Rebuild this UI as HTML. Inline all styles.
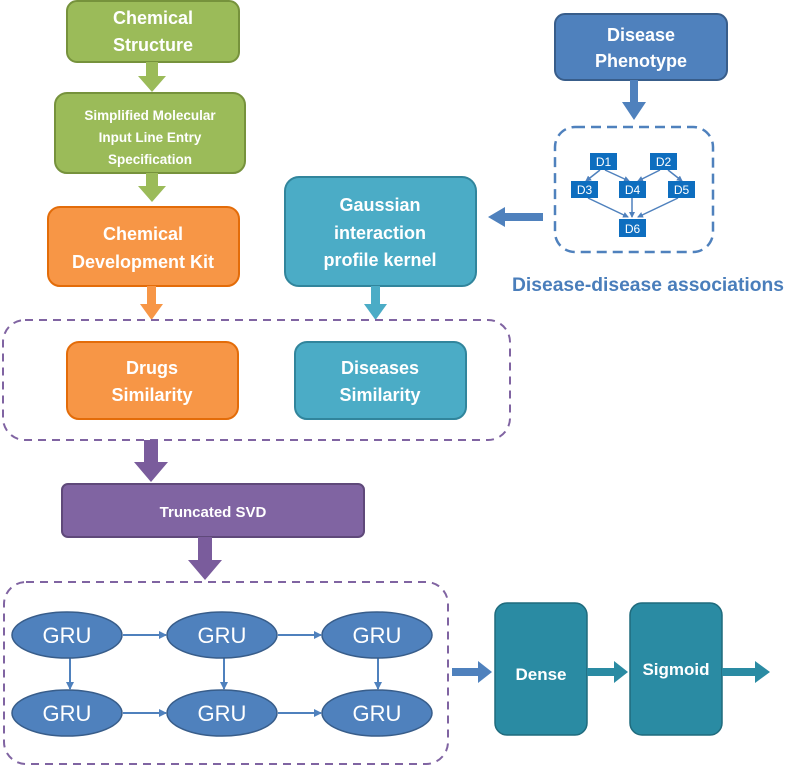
<!DOCTYPE html>
<html><head><meta charset="utf-8"><style>
body{margin:0;background:#fff;}
svg{display:block;font-family:"Liberation Sans",sans-serif;font-weight:bold;}
</style></head><body>
<svg width="786" height="767" viewBox="0 0 786 767" xmlns="http://www.w3.org/2000/svg">
<defs>
<marker id="ab" markerWidth="6" markerHeight="6" refX="5" refY="3" orient="auto" markerUnits="userSpaceOnUse"><path d="M0,0 L6,3 L0,6 z" fill="#4f81bd"/></marker>
<marker id="ad" markerWidth="8" markerHeight="8" refX="7" refY="4" orient="auto" markerUnits="userSpaceOnUse"><path d="M0,0 L8,4 L0,8 z" fill="#4f81bd"/></marker>
</defs>
<rect x="67" y="1" width="172" height="61" rx="10" fill="#9bbb59" stroke="#76923c" stroke-width="2"/>
<text x="153" y="24" fill="#fff" font-size="18" text-anchor="middle">Chemical</text>
<text x="153" y="51" fill="#fff" font-size="18" text-anchor="middle">Structure</text>
<polygon points="146,62 158,62 158,76 166,76 152,92 138,76 146,76" fill="#9bbb59"/>
<rect x="55" y="93" width="190" height="80" rx="12" fill="#9bbb59" stroke="#76923c" stroke-width="2"/>
<text x="150" y="120" fill="#fff" font-size="13.5" text-anchor="middle">Simplified Molecular</text>
<text x="150" y="142" fill="#fff" font-size="13.5" text-anchor="middle">Input Line Entry</text>
<text x="150" y="164" fill="#fff" font-size="13.5" text-anchor="middle">Specification</text>
<polygon points="146,173 158,173 158,186 166,186 152,202 138,186 146,186" fill="#9bbb59"/>
<rect x="48" y="207" width="191" height="79" rx="12" fill="#f79646" stroke="#e36c09" stroke-width="2"/>
<text x="143" y="240" fill="#fff" font-size="18" text-anchor="middle">Chemical</text>
<text x="143" y="268" fill="#fff" font-size="18" text-anchor="middle">Development Kit</text>
<polygon points="147,286 156,286 156,304 163,304 151.5,320 140,304 147,304" fill="#f79646"/>
<rect x="285" y="177" width="191" height="109" rx="14" fill="#4bacc6" stroke="#31859c" stroke-width="2"/>
<text x="380" y="211" fill="#fff" font-size="18" text-anchor="middle">Gaussian</text>
<text x="380" y="239" fill="#fff" font-size="18" text-anchor="middle">interaction</text>
<text x="380" y="266" fill="#fff" font-size="18" text-anchor="middle">profile kernel</text>
<polygon points="371,286 380,286 380,304 387,304 375.5,320 364,304 371,304" fill="#4bacc6"/>
<rect x="555" y="14" width="172" height="66" rx="10" fill="#4f81bd" stroke="#385d8a" stroke-width="2"/>
<text x="641" y="41" fill="#fff" font-size="18" text-anchor="middle">Disease</text>
<text x="641" y="67" fill="#fff" font-size="18" text-anchor="middle">Phenotype</text>
<polygon points="630,80 638,80 638,102 646,102 634,120 622,102 630,102" fill="#4f81bd"/>
<rect x="555" y="127" width="158" height="125" rx="20" fill="none" stroke="#4f81bd" stroke-width="2.5" stroke-dasharray="10,6"/>
<g stroke="#4f81bd" stroke-width="1.5" marker-end="url(#ab)">
<line x1="600" y1="170" x2="586" y2="181"/>
<line x1="605" y1="170" x2="629" y2="181"/>
<line x1="660" y1="170" x2="638" y2="181"/>
<line x1="668" y1="170" x2="682" y2="181"/>
<line x1="588" y1="198" x2="628" y2="217"/>
<line x1="632" y1="198" x2="632" y2="217"/>
<line x1="678" y1="198" x2="638" y2="217"/>
</g>
<g fill="#0e6ebf">
<rect x="590" y="153" width="27" height="17"/><rect x="650" y="153" width="27" height="17"/>
<rect x="571" y="181" width="27" height="17"/><rect x="619" y="181" width="27" height="17"/>
<rect x="668" y="181" width="27" height="17"/><rect x="619" y="219" width="27" height="18"/>
</g>
<g fill="#fff" font-size="12" font-weight="normal" text-anchor="middle">
<text x="603.5" y="166">D1</text><text x="663.5" y="166">D2</text>
<text x="584.5" y="194">D3</text><text x="632.5" y="194">D4</text>
<text x="681.5" y="194">D5</text><text x="632.5" y="233">D6</text>
</g>
<polygon points="543,213 505,213 505,207 488,217 505,227 505,221 543,221" fill="#4f81bd"/>
<text x="648" y="291" fill="#4a7ebb" font-size="19" text-anchor="middle" textLength="272" lengthAdjust="spacingAndGlyphs">Disease-disease associations</text>
<rect x="3" y="320" width="507" height="120" rx="22" fill="none" stroke="#8064a2" stroke-width="2" stroke-dasharray="8,6"/>
<rect x="67" y="342" width="171" height="77" rx="12" fill="#f79646" stroke="#e36c09" stroke-width="2"/>
<text x="152" y="374" fill="#fff" font-size="18" text-anchor="middle">Drugs</text>
<text x="152" y="401" fill="#fff" font-size="18" text-anchor="middle">Similarity</text>
<rect x="295" y="342" width="171" height="77" rx="12" fill="#4bacc6" stroke="#31859c" stroke-width="2"/>
<text x="380" y="374" fill="#fff" font-size="18" text-anchor="middle">Diseases</text>
<text x="380" y="401" fill="#fff" font-size="18" text-anchor="middle">Similarity</text>
<polygon points="144,440 158,440 158,462 168,462 151,482 134,462 144,462" fill="#7a5c9c"/>
<rect x="62" y="484" width="302" height="53" rx="6" fill="#8064a2" stroke="#5f497a" stroke-width="2"/>
<text x="213" y="517" fill="#fff" font-size="15" text-anchor="middle">Truncated SVD</text>
<polygon points="198,537 212,537 212,560 222,560 205,580 188,560 198,560" fill="#7a5c9c"/>
<rect x="4" y="582" width="444" height="182" rx="22" fill="none" stroke="#8064a2" stroke-width="2" stroke-dasharray="8,6"/>
<g stroke="#4f81bd" stroke-width="2" marker-end="url(#ad)">
<line x1="123" y1="635" x2="166" y2="635"/><line x1="278" y1="635" x2="321" y2="635"/>
<line x1="123" y1="713" x2="166" y2="713"/><line x1="278" y1="713" x2="321" y2="713"/>
<line x1="70" y1="658" x2="70" y2="689"/><line x1="224" y1="658" x2="224" y2="689"/><line x1="378" y1="658" x2="378" y2="689"/>
</g>
<g fill="#4f81bd" stroke="#385d8a" stroke-width="1.5">
<ellipse cx="67" cy="635" rx="55" ry="23"/><ellipse cx="222" cy="635" rx="55" ry="23"/><ellipse cx="377" cy="635" rx="55" ry="23"/>
<ellipse cx="67" cy="713" rx="55" ry="23"/><ellipse cx="222" cy="713" rx="55" ry="23"/><ellipse cx="377" cy="713" rx="55" ry="23"/>
</g>
<g fill="#fff" font-size="22" font-weight="normal" text-anchor="middle">
<text x="67" y="643">GRU</text><text x="222" y="643">GRU</text><text x="377" y="643">GRU</text>
<text x="67" y="721">GRU</text><text x="222" y="721">GRU</text><text x="377" y="721">GRU</text>
</g>
<polygon points="452,668 478,668 478,661 492,672 478,683 478,676 452,676" fill="#4f81bd"/>
<rect x="495" y="603" width="92" height="132" rx="12" fill="#2a8ba3" stroke="#1f6b7d" stroke-width="1.5"/>
<text x="541" y="680" fill="#fff" font-size="17" text-anchor="middle">Dense</text>
<polygon points="587,668 614,668 614,661 628,672 614,683 614,676 587,676" fill="#2a8ba3"/>
<rect x="630" y="603" width="92" height="132" rx="12" fill="#2a8ba3" stroke="#1f6b7d" stroke-width="1.5"/>
<text x="676" y="675" fill="#fff" font-size="17" text-anchor="middle">Sigmoid</text>
<polygon points="722,668 755,668 755,661 770,672 755,683 755,676 722,676" fill="#2a8ba3"/>
</svg>
</body></html>
